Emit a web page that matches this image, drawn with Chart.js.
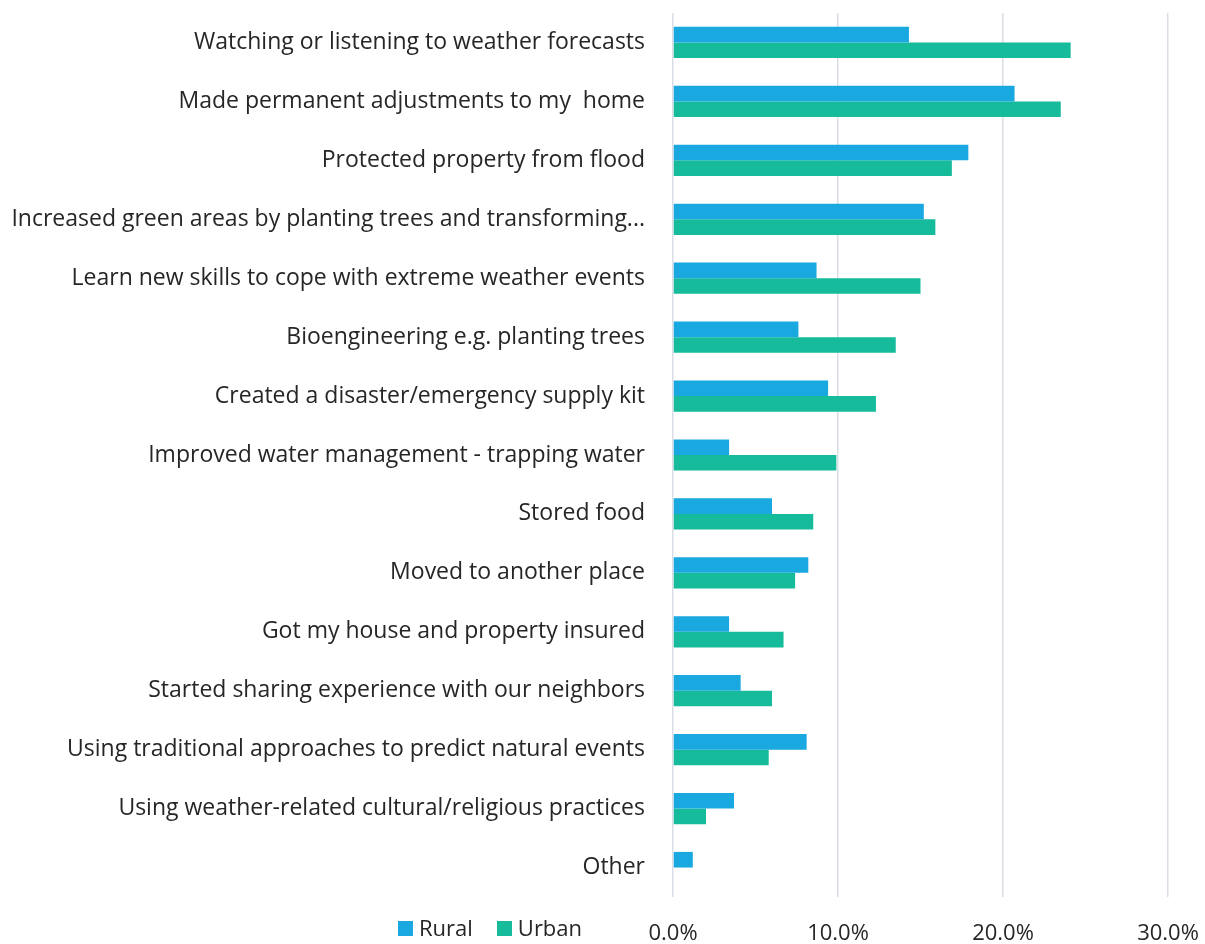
<!DOCTYPE html>
<html>
<head>
<meta charset="utf-8">
<script src="https://cdn.jsdelivr.net/npm/chart.js@4"></script>
<style>
  html, body { margin: 0; padding: 0; background: #fff; }
  #wrap { position: relative; width: 1205px; height: 944px; }
  #legend { position: absolute; left: 398px; top: 912px; font-family: 'Open Sans', sans-serif; font-size: 22px; color: #262626; white-space: nowrap; }
  #legend span.item { margin-right: 24px; }
  #legend span.box { display: inline-block; width: 15px; height: 15px; margin-right: 6px; }
</style>
</head>
<body>
<div id="wrap">
  <canvas id="chart" width="1205" height="944"></canvas>
  <div id="legend"></div>
</div>
<script>
var categories = [
    "Watching or listening to weather forecasts",
    "Made permanent adjustments to my  home",
    "Protected property from flood",
    "Increased green areas by planting trees and transforming...",
    "Learn new skills to cope with extreme weather events",
    "Bioengineering e.g. planting trees",
    "Created a disaster/emergency supply kit",
    "Improved water management - trapping water",
    "Stored food",
    "Moved to another place",
    "Got my house and property insured",
    "Started sharing experience with our neighbors",
    "Using traditional approaches to predict natural events",
    "Using weather-related cultural/religious practices",
    "Other"
];
var rural = [14.3, 20.7, 17.9, 15.2, 8.7, 7.6, 9.4, 3.4, 6.0, 8.2, 3.4, 4.1, 8.1, 3.7, 1.2];
var urban = [24.1, 23.5, 16.9, 15.9, 15.0, 13.5, 12.3, 9.9, 8.5, 7.4, 6.7, 6.0, 5.8, 2.0, 0];
var xTicks = [0, 10, 20, 30];

var seriesNames = ["Rural", "Urban"];
var seriesColors = ["#19a9e0", "#16bb9b"];

var chart = new Chart(document.getElementById("chart"), {
    type: 'bar',
    data: {
        labels: categories,
        datasets: [{
            label: seriesNames[0],
            backgroundColor: seriesColors[0],
            data: rural
        }, {
            label: seriesNames[1],
            backgroundColor: seriesColors[1],
            data: urban
        }]
    },
    options: {
        indexAxis: 'y',
        responsive: false,
        animation: false,
        layout: {
            padding: { top: 13, right: 37, left: 0, bottom: 0 }
        },
        datasets: {
            bar: { categoryPercentage: 0.53, barPercentage: 1.0 }
        },
        plugins: {
            legend: { display: false },
            tooltip: { enabled: false }
        },
        scales: {
            x: {
                min: 0,
                max: 30,
                afterBuildTicks: function(scale){
                    scale.ticks = xTicks.map(function(v){ return { value: v }; });
                },
                afterFit: function(scale){
                    scale.height = 47;
                    scale.paddingLeft = 0;
                    scale.paddingRight = 0;
                },
                grid: { color: '#d9dee6', lineWidth: 1.5, drawTicks: false },
                border: { display: false },
                ticks: {
                    padding: 24,
                    color: '#262626',
                    font: { family: 'Open Sans', size: 22 },
                    callback: function(v){ return Number(v).toFixed(1) + '%'; }
                }
            },
            y: {
                afterFit: function(scale){
                    scale.width = 673;
                    // no extra room above/below the first and last category
                    scale.paddingTop = 0;
                    scale.paddingBottom = 0;
                },
                grid: { display: false },
                border: { display: false },
                ticks: {
                    padding: 20,
                    color: '#262626',
                    autoSkip: false,
                    font: { family: 'Open Sans', size: 23 }
                }
            }
        }
    }
});

// legend sits on the same row as the x tick labels, like the original
var legend = document.getElementById('legend');
for (var i = 0; i < seriesNames.length; i++) {
    var item = document.createElement('span');
    item.className = 'item';
    var box = document.createElement('span');
    box.className = 'box';
    box.style.background = seriesColors[i];
    item.appendChild(box);
    item.appendChild(document.createTextNode(seriesNames[i]));
    legend.appendChild(item);
}
</script>
</body>
</html>
